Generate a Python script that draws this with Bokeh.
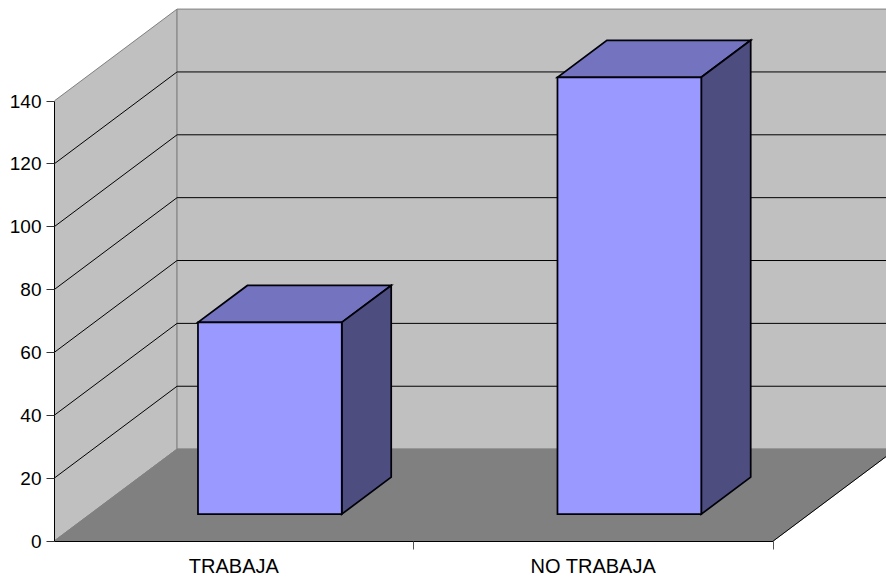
from bokeh.plotting import figure
from bokeh.models import FixedTicker, Range1d
from bokeh.embed import file_html
from bokeh.resources import INLINE

categories = ["TRABAJA", "NO TRABAJA"]
values = [61, 139]
y_ticks = [0, 20, 40, 60, 80, 100, 120, 140]
gap_side = 0.3          # category-units of gap either side of a bar
bar_w = 0.4
depth_x = 0.342         # category-units for the full floor depth
depth_y = 29.27         # value-units for the full floor depth
d0, d1 = 0.293, 0.695   # bar depth span on the floor

WALL = "#C0C0C0"
FLOOR = "#808080"
EDGE = "#808080"
FRONT = "#9999FF"
TOP = "#7373BF"
SIDE = "#4D4D80"
INK = "#000008"
FONT = "Liberation Sans"
X_SHIFT = 0.4 / 359.5
Y_SHIFT = 0.4 / 3.143


def pr(x, v, d):
    return x + d * depth_x, v + d * depth_y


def poly(pts):
    q = [pr(*t) for t in pts]
    return [a for a, _ in q], [b for _, b in q]


n = len(categories)
vmax = y_ticks[-1]

p = figure(frame_width=832, frame_height=541, output_backend="svg", toolbar_location=None,
           x_range=Range1d(X_SHIFT, 832 / 359.5 + X_SHIFT),
           y_range=Range1d(-Y_SHIFT, 541 / 3.143 - Y_SHIFT),
           min_border_left=54, min_border_right=0, min_border_top=0, min_border_bottom=36)
p.outline_line_color = None
p.grid.visible = False
p.background_fill_color = "white"

# walls
xs, ys = poly([(0, 0, 0), (0, 0, 1), (0, vmax, 1), (0, vmax, 0)])
p.patch(xs, ys, fill_color=WALL, line_color=EDGE, line_width=1)
xs, ys = poly([(0, 0, 1), (n, 0, 1), (n, vmax, 1), (0, vmax, 1)])
p.patch(xs, ys, fill_color=WALL, line_color=EDGE, line_width=1)

# grid lines
for t in y_ticks[1:-1]:
    xs, ys = poly([(0, t, 0), (0, t, 1), (n, t, 1)])
    p.line(xs, ys, line_color="black", line_width=1)

# floor
xs, ys = poly([(0, 0, 0), (n, 0, 0), (n, 0, 1), (0, 0, 1)])
p.patch(xs, ys, fill_color=FLOOR, line_color=EDGE, line_width=1)
xs, ys = poly([(n, 0, 0), (n, 0, 1)])
p.line(xs, ys, line_color="black", line_width=1)

# bars
for i, v in enumerate(values):
    a = i + gap_side
    b = a + bar_w
    for pts, col in (
        ([(a, v, d0), (b, v, d0), (b, v, d1), (a, v, d1)], TOP),
        ([(b, 0, d0), (b, 0, d1), (b, v, d1), (b, v, d0)], SIDE),
        ([(a, 0, d0), (b, 0, d0), (b, v, d0), (a, v, d0)], FRONT),
    ):
        xs, ys = poly(pts)
        p.patch(xs, ys, fill_color=col, line_color=INK, line_width=1.75, line_join="miter")

# axes
p.yaxis.ticker = FixedTicker(ticks=y_ticks)
p.yaxis.bounds = (0, vmax)
p.yaxis.major_tick_in = 0
p.yaxis.major_tick_out = 8
p.yaxis.minor_tick_line_color = None
p.yaxis.major_label_standoff = 5
p.yaxis.axis_line_color = "black"
p.yaxis.major_tick_line_color = "#333333"
p.yaxis.major_label_text_font = FONT
p.yaxis.major_label_text_font_size = "19px"
p.yaxis.major_label_text_color = "black"

centers = [i + 0.5 for i in range(n)]
p.xaxis.ticker = FixedTicker(ticks=centers, minor_ticks=list(range(n + 1)))
p.xaxis.bounds = (0, n)
p.xaxis.major_label_overrides = {c: l for c, l in zip(centers, categories)}
p.xaxis.major_tick_line_color = None
p.xaxis.minor_tick_line_color = "#555555"
p.xaxis.minor_tick_in = 0
p.xaxis.minor_tick_out = 8
p.xaxis.major_tick_in = 0
p.xaxis.major_tick_out = 0
p.xaxis.major_label_standoff = 5
p.xaxis.axis_line_color = "black"
p.xaxis.major_label_text_font = FONT
p.xaxis.major_label_text_font_size = "20px"
p.xaxis.major_label_text_color = "black"

open("out.html", "w").write(file_html(p, INLINE))
